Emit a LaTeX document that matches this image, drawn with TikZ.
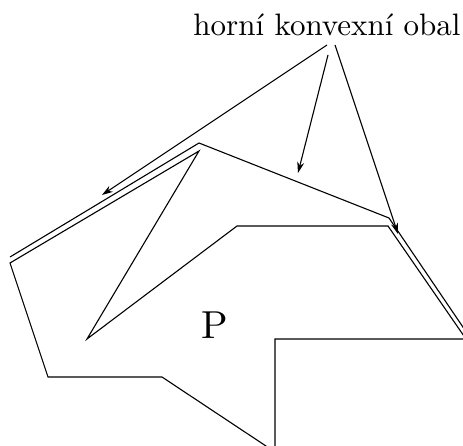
\documentclass[tikz,border=0pt]{standalone}
\usepackage{fontspec}
\newfontfamily\lmten{lmroman10-regular.otf}
\usetikzlibrary{arrows.meta}
\begin{document}
\begin{tikzpicture}[x=1pt,y=-1pt,
  edge/.style={line width=1.1pt,line join=miter},
  pointer/.style={line width=1.1pt,-{Stealth[length=11pt,width=7pt]}}]
\useasboundingbox (0,0) rectangle (463,446);
\clip (0,0) rectangle (463,446);
% polygon vertices
\coordinate (v1) at (10,263);
\coordinate (v2) at (48,377);
\coordinate (v3) at (162,377);
\coordinate (v4) at (275,452);
\coordinate (v5) at (275,339);
\coordinate (v6) at (466,339);
\coordinate (v7) at (388,226);
\coordinate (v8) at (237,226);
\coordinate (v9) at (87,339);
\coordinate (v10) at (199,151);
% hull vertices
\coordinate (h1) at (10,257);
\coordinate (h2) at (199,143);
\coordinate (h3) at (389,218);
\coordinate (h4) at (469,336);
% label and arrows
\node[anchor=base,inner sep=0pt,font=\lmten\fontsize{31}{37}\selectfont] (lbl) at (327,36) {horní konvexní obal};
\node[anchor=base,inner sep=0pt,font=\lmten\fontsize{39}{47}\selectfont] (P) at (214.5,338) {P};
\coordinate (s1) at (327,45);
\coordinate (s2) at (328,55);
\coordinate (s3) at (335,45);
\coordinate (t1) at (102,195);
\coordinate (t2) at (298,173);
\coordinate (t3) at (398,234);
\draw[edge] (v1) -- (v2) -- (v3) -- (v4) -- (v5) -- (v6) -- (v7) -- (v8) -- (v9) -- (v10) -- cycle;
\draw[edge] (h1) -- (h2) -- (h3) -- (h4);
\draw[pointer] (s1) -- (t1);
\draw[pointer] (s2) -- (t2);
\draw[pointer] (s3) -- (t3);
\end{tikzpicture}
\end{document}
